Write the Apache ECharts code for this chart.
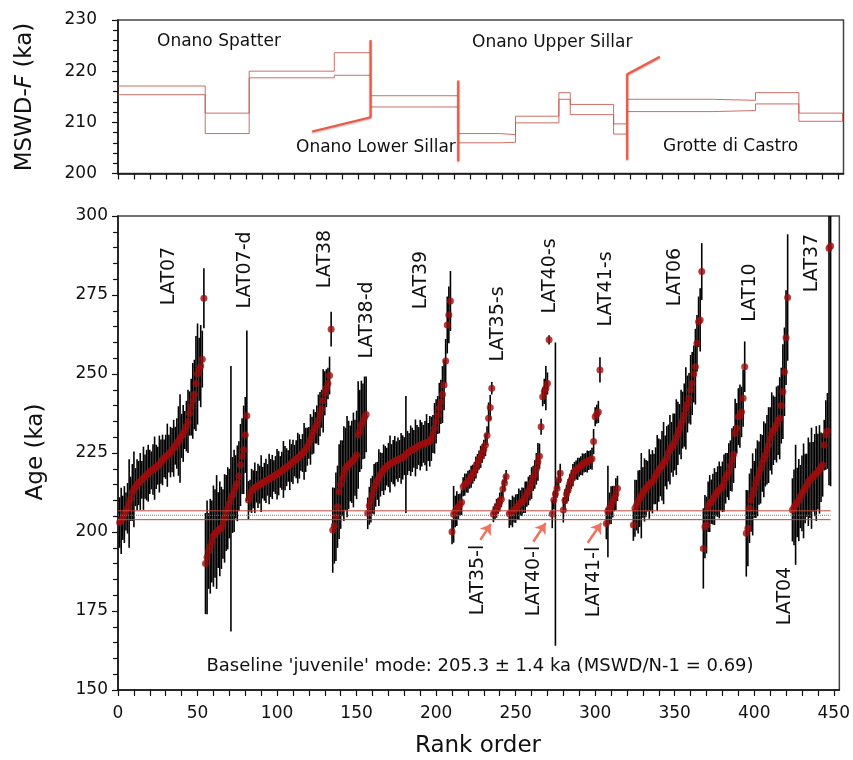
<!DOCTYPE html>
<html><head><meta charset="utf-8">
<script src="https://cdn.jsdelivr.net/npm/echarts@6/dist/echarts.min.js"></script>
<style>html,body{margin:0;padding:0;background:#fff}#c{width:853px;height:760px}</style>
</head><body><div id="c"></div>
<script>
// ---------- DATA ----------
// Bottom panel: sample groups (start rank, ages in ka, 1-sided error in ka)
const lat07Start = 1;
const lat07Age = [203.0, 203.5, 204.5, 205.5, 206.5, 207.5, 209.0, 210.5, 212.5, 213.5,
 214.2, 215.0, 215.5, 216.0, 216.5, 217.0, 217.5, 218.0, 218.6, 219.0,
 219.5, 219.8, 220.2, 220.6, 221.0, 221.5, 222.3, 222.8, 223.3, 223.8,
 224.3, 224.8, 225.3, 225.9, 226.5, 227.3, 228.0, 228.8, 229.6, 230.4,
 231.2, 232.3, 233.5, 235.0, 237.5, 239.5, 241.5, 243.5, 247.0, 250.0,
 251.5, 252.5, 254.7, 274.0];
const lat07Err = [8, 10.5, 7, 9, 6, 8, 14, 7, 9, 12,
 6, 8, 7, 9, 6, 10, 7, 8, 9, 7,
 6, 8, 10, 7, 6, 9, 7, 8, 6, 7,
 10, 6, 8, 7, 9, 6, 8, 11, 14, 7,
 9, 6, 8, 10, 7, 9, 12, 11, 15, 16,
 10, 13, 9, 9.5];

const lat07dStart = 55;
const lat07dAge = [190.0, 192.0, 194.0, 195.5, 197.0, 198.7, 199.5, 200.0, 200.6, 201.0,
 201.3, 202.5, 204.3, 206.0, 207.5, 209.0, 210.5, 211.7, 213.0, 214.3,
 215.4, 217.7, 221.2, 224.0, 226.0, 230.7, 236.8];
const lat07dErr = [16, 18, 12, 15, 13, 16, 14, 18, 12, 15,
 13, 11, 14, 12, 13, 11, 42, 12, 13, 10,
 12, 11, 13, 12, 14, 12, 27];

const lat38Start = 82;
const lat38Age = [210.1, 211.5, 213.0, 213.5, 214.0, 214.3, 214.6, 215.0, 215.3, 215.6,
 215.9, 216.2, 216.5, 216.8, 217.1, 217.4, 217.7, 218.0, 218.3, 218.6,
 219.0, 219.4, 219.8, 220.2, 220.5, 220.9, 221.3, 221.8, 222.2, 222.6,
 223.0, 223.4, 223.9, 224.4, 225.0, 225.5, 226.0, 227.0, 228.2, 229.3,
 230.5, 231.8, 233.0, 234.0, 235.5, 237.3, 239.0, 241.5, 243.9, 245.5,
 247.0, 249.5, 264.2];
const lat38Err = [6, 5, 7, 6, 8, 5, 7, 6, 9, 5,
 6, 7, 5, 8, 6, 7, 5, 6, 8, 7,
 5, 6, 9, 7, 6, 5, 8, 6, 7, 5,
 6, 8, 7, 5, 6, 9, 7, 6, 5, 8,
 6, 7, 5, 6, 8, 7, 6, 10, 7, 6,
 5, 6, 5.5];

const lat38dStart = 135;
const lat38dAge = [200.6, 202.0, 204.8, 208.0, 212.8, 215.0, 217.0, 218.5, 220.0, 220.7,
 221.2, 221.7, 222.2, 222.8, 223.5, 224.4, 230.7, 232.0, 233.9, 235.0,
 236.2, 237.2];
const lat38dErr = [13.5, 12, 14, 13, 15, 14, 12, 15, 13, 16,
 14, 12, 13, 15, 12, 14, 17, 13, 14, 12,
 13, 12];

const lat39Start = 157;
const lat39Age = [205.9, 208.3, 210.0, 211.8, 213.5, 215.0, 216.2, 217.2, 218.2, 219.0,
 219.7, 220.2, 220.7, 221.2, 221.5, 221.8, 222.1, 222.4, 222.7, 222.9,
 223.1, 223.3, 223.6, 224.0, 224.5, 225.0, 225.3, 225.7, 226.0, 226.3,
 226.6, 226.9, 227.2, 227.5, 227.7, 227.9, 228.1, 228.3, 228.5, 228.7,
 229.5, 231.0, 232.8, 235.0, 237.0, 239.2, 241.2, 243.5, 246.5, 254.1,
 265.5, 268.7, 273.1];
const lat39Err = [5, 6, 7, 6, 8, 7, 6, 9, 7, 6,
 8, 7, 6, 7, 9, 6, 7, 8, 6, 7,
 6, 8, 7, 6, 18.5, 7, 6, 8, 7, 6,
 9, 7, 6, 8, 7, 6, 7, 9, 6, 8,
 7, 6, 8, 7, 6, 8, 7, 9, 8, 7,
 9, 9, 9.5];

const lat35sStart = 210;
const lat35sAge = [200.1, 205.6, 206.5, 207.4, 208.0, 208.7, 209.4, 214.3, 215.0, 215.5,
 215.9, 216.7, 217.5, 218.3, 219.1, 220.4, 221.7, 222.8, 223.8, 224.9,
 226.2, 227.5, 230.5, 236.0, 239.4, 245.5];
const lat35sErr = [4, 9, 5, 5.5, 4, 3.5, 4, 3, 3.5, 3,
 3.5, 3, 3.5, 3, 3, 3.5, 3, 3, 3.5, 3,
 3, 3.5, 3, 5, 4, 2];

const lat35lStart = 236;
const lat35lAge = [205.6, 206.5, 207.5, 208.3, 209.5, 210.4, 213.6, 215.5, 217.6];
const lat35lErr = [2.5, 2.5, 3, 2.5, 3, 2.5, 3, 2.5, 2];

const lat40sStart = 246;
const lat40sAge = [205.8, 206.1, 206.5, 207.0, 207.4, 208.0, 208.8, 209.2, 209.6, 210.0,
 211.0, 212.0, 213.0, 214.0, 215.5, 217.0, 218.2, 220.0, 222.2, 224.0,
 233.3, 242.8, 244.5, 245.5, 247.0, 260.8];
const lat40sErr = [4.5, 4, 5, 4, 4.5, 4, 5, 4, 4.5, 4,
 5, 4, 4.5, 4, 5, 4, 4.5, 5, 6, 4,
 2.5, 3, 4, 7, 3.5, 1.5];

const lat40lStart = 273;
const lat40lAge = [205.7, 210.1, 212.0, 213.8, 216.5, 218.6];
const lat40lErr = [4.5, 3, 48, 3, 3, 3];

const lat41sStart = 280;
const lat41sAge = [207.0, 210.0, 212.0, 213.3, 215.3, 216.6, 218.0, 219.2, 219.6, 220.0,
 220.5, 221.0, 221.4, 221.8, 222.0, 222.3, 222.6, 222.9, 223.2, 228.6,
 236.5, 237.3, 238.0, 251.3];
const lat41sErr = [4, 3.5, 3, 3.5, 3, 3, 3.5, 3, 3, 3.5,
 3, 3, 3.5, 3, 3, 3.5, 3, 3, 3.5, 4,
 3, 3, 3.5, 4];

const lat41lStart = 307;
const lat41lAge = [202.7, 206.5, 207.5, 208.5, 209.6, 210.6, 212.0, 213.8];
const lat41lErr = [5, 14.5, 5, 6, 5, 4, 5, 4];

const lat06Start = 324;
const lat06Age = [202.2, 207.5, 208.5, 209.5, 210.6, 211.5, 212.5, 213.3, 213.8, 214.5,
 215.2, 215.6, 215.9, 216.8, 217.8, 218.7, 219.6, 220.3, 221.0, 221.8,
 222.5, 223.5, 225.0, 226.0, 226.8, 227.5, 228.5, 230.0, 231.2, 232.5,
 234.0, 235.4, 237.0, 239.1, 240.5, 242.3, 245.0, 247.0, 250.0, 252.3,
 259.7, 266.5, 267.1, 282.4];
const lat06Err = [5, 9, 8, 10, 9, 13.5, 8, 10, 9, 8,
 11, 9, 10, 8, 9, 12, 10, 9, 11, 13,
 8, 10, 9, 11, 8, 10, 9, 12, 10, 8,
 11, 9, 10, 13, 9, 8, 11, 10, 9, 12,
 9, 8, 10, 9];

const lat10Start = 368;
const lat10Age = [194.8, 201.7, 202.2, 208.0, 209.0, 209.6, 210.4, 211.2, 212.0, 212.8,
 213.3, 213.8, 214.3, 215.5, 217.0, 218.0, 219.1, 221.0, 222.8, 224.5,
 231.2, 232.8, 236.5, 236.7, 238.0, 242.3, 252.3];
const lat10Err = [12.7, 10, 9, 8, 9, 7, 8, 9, 7, 8,
 9, 7, 8, 9, 8, 7, 9, 8, 10, 9,
 11, 8, 9, 10, 8, 9, 8];

const lat04Start = 395;
const lat04Age = [199.6, 201.2, 207.5, 210.1, 211.9, 213.5, 215.4, 217.0, 218.6, 220.0,
 221.7, 223.0, 224.4, 226.0, 227.5, 229.5, 231.2, 232.2, 232.8, 234.0,
 235.4, 236.0, 240.0, 244.4, 250.7, 261.5, 274.2];
const lat04Err = [13.7, 12, 11, 10, 13, 9, 11, 12, 10, 11,
 9, 12, 10, 11, 12, 10, 13, 11, 10, 12,
 11, 13, 12, 15, 14, 15, 20];

const lat37Start = 424;
const lat37Age = [207.0, 207.8, 208.6, 209.3, 210.1, 211.2, 212.2, 213.0, 213.8, 214.8,
 215.9, 216.4, 217.0, 217.5, 218.0, 218.5, 219.1, 219.8, 220.5, 221.2,
 227.5, 230.7, 232.0, 289.8, 290.5];
const lat37Err = [10, 12, 19, 11, 13, 10, 12, 15, 11, 10,
 14, 12, 16, 11, 13, 15, 12, 14, 11, 10,
 8, 11, 12, 75, 76];

// Baseline juvenile mode 205.3 ± 1.4 ka
const baselineMode = 205.3;
const baselineErr = 1.4;
const baselineRange = [0, 448];

// Top panel: MSWD-F boxes (step envelopes)
const boxStart = [0, 54.5, 82, 135.2, 157.9, 212.7, 239.2, 248.5, 275.6, 282.7, 309.8, 318.3, 371.4, 398.5, 425.6];
const boxEnd   = [54.5, 82, 135.2, 157.9, 212.7, 239.2, 248.5, 275.6, 282.7, 309.8, 318.3, 371.4, 398.5, 425.6, 452.9];
const boxLow   = [215.4, 207.8, 218.7, 219.2, 213.0, 206.0, 206.1, 209.9, 214.5, 211.5, 207.7, 212.1, 212.3, 213.6, 210.2];
const boxHigh  = [217.1, 211.8, 220.0, 223.6, 215.2, 207.8, 207.6, 211.2, 215.8, 213.5, 209.7, 214.5, 214.3, 215.8, 211.8];

// Unit separator lines (rank, ka)
const sepLine1 = [[121.4, 208.2], [157.9, 211.0], [157.9, 226.1]];
const sepLine2 = [[212.7, 202.4], [212.7, 218.2]];
const sepLine3 = [[318.3, 202.7], [318.3, 219.4], [338.7, 222.8]];

// Arrows pointing to "-l" populations (rank, ka)
const arrowFrom = [[227.8, 197.5], [261.1, 196.9], [295.3, 196.6]];
const arrowTo   = [[234.4, 202.5], [268.8, 202.8], [303.8, 202.8]];

// Tick values
const xTickVals = [0,10,20,30,40,50,60,70,80,90,100,110,120,130,140,150,160,170,180,190,200,210,220,230,240,250,260,270,280,290,300,310,320,330,340,350,360,370,380,390,400,410,420,430,440,450];
const xLabelVals = [0,50,100,150,200,250,300,350,400,450];

// ---------- BUILD ----------
const groups = [
  [lat07Start, lat07Age, lat07Err], [lat07dStart, lat07dAge, lat07dErr],
  [lat38Start, lat38Age, lat38Err], [lat38dStart, lat38dAge, lat38dErr],
  [lat39Start, lat39Age, lat39Err], [lat35sStart, lat35sAge, lat35sErr],
  [lat35lStart, lat35lAge, lat35lErr], [lat40sStart, lat40sAge, lat40sErr],
  [lat40lStart, lat40lAge, lat40lErr], [lat41sStart, lat41sAge, lat41sErr],
  [lat41lStart, lat41lAge, lat41lErr], [lat06Start, lat06Age, lat06Err],
  [lat10Start, lat10Age, lat10Err], [lat04Start, lat04Age, lat04Err],
  [lat37Start, lat37Age, lat37Err]
];
const pts = [];
groups.forEach(([s, ages, errs]) => ages.forEach((a, i) => pts.push([s + i, a, errs[i]])));

const nBox = boxStart.length;
const upperStep = boxStart.map((s, i) => [s, boxHigh[i]]).concat([[boxEnd[nBox - 1], boxHigh[nBox - 1]]]);
const lowerStep = boxStart.map((s, i) => [s, boxLow[i]]).concat([[boxEnd[nBox - 1], boxLow[nBox - 1]]]);
const rightEdge = [[boxEnd[nBox - 1], boxLow[nBox - 1]], [boxEnd[nBox - 1], boxHigh[nBox - 1]]];

const FONT = 'DejaVu Sans';
const labelStyle = {fontFamily: FONT, fontSize: 17, color: '#111'};

function xAxisCfg(grid, showLabel) {
  return {
    type: 'value', gridIndex: grid, min: 0, max: 453.5,
    axisLine: {show: true, onZero: false, lineStyle: {color: '#111', width: 1.5}},
    axisTick: {show: true, length: 6, customValues: xTickVals, lineStyle: {color: '#111', width: 1.2}},
    axisLabel: {show: showLabel, customValues: xLabelVals, margin: 15, ...labelStyle},
    splitLine: {show: false}
  };
}
function yAxisCfg(grid, min, max, interval, margin) {
  return {
    type: 'value', gridIndex: grid, min, max, interval,
    axisLine: {show: true, onZero: false, lineStyle: {color: '#111', width: 1.5}},
    axisTick: {show: true, length: 6, lineStyle: {color: '#111', width: 1.2}},
    minorTick: {show: true, splitNumber: 5, length: 5, lineStyle: {color: '#111', width: 1.2}},
    axisLabel: {margin, ...labelStyle},
    splitLine: {show: false}, minorSplitLine: {show: false}
  };
}

const sepStyle = {color: '#ec5a44', width: 2.2, shadowColor: 'rgba(0,0,0,0.35)', shadowBlur: 2, shadowOffsetY: 1};
const boxStyle = {color: 'rgba(196,86,74,0.85)', width: 1};
function lineSeries(data, gi, style, step) {
  return {type: 'line', xAxisIndex: gi, yAxisIndex: gi, data, symbol: 'none', silent: true,
    step: step || false, lineStyle: style, z: 5, animation: false};
}

const sampleLabels = [
  ['LAT07', 169, 276], ['LAT07-d', 245, 270], ['LAT38', 325, 259], ['LAT38-d', 367.5, 320],
  ['LAT39', 421, 280], ['LAT35-s', 498.5, 324], ['LAT40-s', 550.5, 276], ['LAT41-s', 606, 289],
  ['LAT06', 675, 277], ['LAT10', 750, 292.5], ['LAT37', 812.5, 263],
  ['LAT35-l', 478, 580], ['LAT40-l', 534, 581], ['LAT41-l', 594, 582], ['LAT04', 785.5, 596]
];
const graphics = sampleLabels.map(([t, x, y]) => ({
  type: 'text', x, y, rotation: Math.PI / 2, silent: true,
  style: {text: t, fontFamily: FONT, fontSize: 19, fill: '#111', align: 'center', verticalAlign: 'middle'}
}));
const topTexts = [
  ['Onano Spatter', 157, 42], ['Onano Lower Sillar', 296, 148],
  ['Onano Upper Sillar', 472, 43], ['Grotte di Castro', 663, 147]
];
topTexts.forEach(([t, x, y]) => graphics.push({
  type: 'text', x, y, silent: true,
  style: {text: t, fontFamily: FONT, fontSize: 17, fill: '#111', align: 'left', verticalAlign: 'middle'}
}));
graphics.push({
  type: 'text', x: 480, y: 666, silent: true,
  style: {text: "Baseline 'juvenile' mode: " + baselineMode.toFixed(1) + ' ± ' + baselineErr.toFixed(1) + ' ka (MSWD/N-1 = 0.69)',
    fontFamily: FONT, fontSize: 18, fill: '#111', align: 'center', verticalAlign: 'middle'}
});
graphics.push({
  type: 'text', x: 25, y: 97, rotation: Math.PI / 2, silent: true,
  style: {text: '{a|MSWD-}{b|F}{a| (ka)}', align: 'center', verticalAlign: 'middle',
    rich: {a: {fontFamily: FONT, fontSize: 23, fill: '#111'}, b: {fontFamily: FONT, fontSize: 23, fontStyle: 'italic', fill: '#111'}}}
});
graphics.push({
  type: 'text', x: 36, y: 452, rotation: Math.PI / 2, silent: true,
  style: {text: 'Age (ka)', fontFamily: FONT, fontSize: 23, fill: '#111', align: 'center', verticalAlign: 'middle'}
});
graphics.push({
  type: 'text', x: 478, y: 746, silent: true,
  style: {text: 'Rank order', fontFamily: FONT, fontSize: 23, fill: '#111', align: 'center', verticalAlign: 'middle'}
});

const chart = echarts.init(document.getElementById('c'), null, {renderer: 'canvas'});
chart.setOption({
  animation: false,
  backgroundColor: '#fff',
  grid: [
    {left: 118, right: 9.5, top: 20, height: 153.5, show: true, borderColor: '#444', borderWidth: 1.5, backgroundColor: 'transparent'},
    {left: 118, right: 9.5, top: 216, height: 474, show: true, borderColor: '#444', borderWidth: 1.5, backgroundColor: 'transparent'}
  ],
  xAxis: [xAxisCfg(0, false), xAxisCfg(1, true)],
  yAxis: [yAxisCfg(0, 200, 230, 10, 21), yAxisCfg(1, 150, 300, 25, 10)],
  graphic: graphics,
  series: [
    lineSeries(upperStep, 0, boxStyle, 'end'),
    lineSeries(lowerStep, 0, boxStyle, 'end'),
    lineSeries(rightEdge, 0, boxStyle),
    lineSeries(sepLine1, 0, sepStyle),
    lineSeries(sepLine2, 0, sepStyle),
    lineSeries(sepLine3, 0, sepStyle),
    lineSeries([[baselineRange[0], baselineMode + baselineErr], [baselineRange[1], baselineMode + baselineErr]], 1, {color: '#c0463a', width: 1}),
    lineSeries([[baselineRange[0], baselineMode], [baselineRange[1], baselineMode]], 1, {color: '#777', width: 1, type: 'dotted'}),
    lineSeries([[baselineRange[0], baselineMode - baselineErr], [baselineRange[1], baselineMode - baselineErr]], 1, {color: '#c0463a', width: 1}),
    {
      type: 'custom', xAxisIndex: 1, yAxisIndex: 1, data: pts, silent: true, clip: true, z: 3,
      encode: {x: 0, y: 1},
      renderItem: (p, api) => {
        const x = api.value(0), y = api.value(1), e = api.value(2);
        const a = api.coord([x, y - e]), b = api.coord([x, y + e]);
        return {type: 'line', shape: {x1: a[0], y1: a[1], x2: b[0], y2: b[1]},
          style: {stroke: '#000', lineWidth: 1.6}};
      }
    },
    {
      type: 'scatter', xAxisIndex: 1, yAxisIndex: 1, data: pts.map(p => [p[0], p[1]]),
      symbol: 'circle', symbolSize: 7, itemStyle: {color: '#9e0d0d'}, silent: true, z: 4, clip: true,
      markLine: {
        silent: true, symbol: ['none', 'arrow'], symbolSize: 10, animation: false,
        label: {show: false},
        lineStyle: {color: '#f2705e', width: 2.5, type: 'solid'},
        data: arrowFrom.map((f, i) => [{coord: f}, {coord: arrowTo[i]}])
      }
    }
  ]
});
</script></body></html>
